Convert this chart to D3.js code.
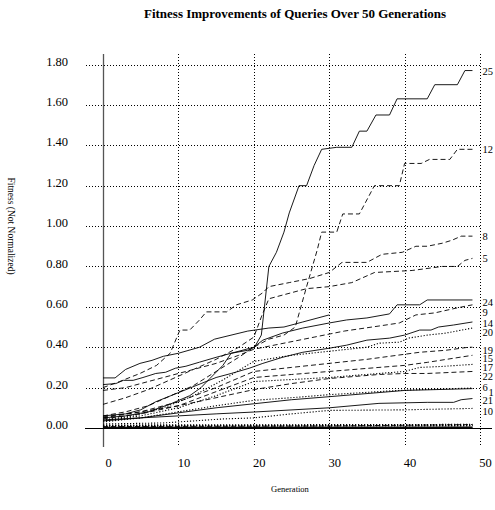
<!DOCTYPE html>
<html><head><meta charset="utf-8">
<script src="https://cdn.jsdelivr.net/npm/d3@7"></script>
<style>
body{margin:0;background:#fff}
svg{display:block;background:#fff}
text{font-family:"Liberation Serif","Times New Roman",serif;fill:#000}
</style>
</head><body>
<svg id="chart" width="495" height="510"></svg>
<script>
// ---------- data (generation, fitness) ----------
const title = "Fitness Improvements of Queries Over 50 Generations";
const xTitle = "Generation";
const yTitle = "Fitness (Not Normalized)";
const xTicks = [0, 10, 20, 30, 40, 50];
const yTicks = [0, 0.2, 0.4, 0.6, 0.8, 1.0, 1.2, 1.4, 1.6, 1.8];

const q25 = [[0,0.05],[3,0.06],[6,0.08],[9,0.12],[11.5,0.16],[13,0.20],[14.2,0.246],[15.9,0.31],[17,0.37],[19.2,0.385],[20.1,0.40],[21,0.46],[22,0.80],[23,0.87],[24,0.97],[24.7,1.065],[26,1.20],[27,1.20],[28,1.30],[29,1.38],[31,1.39],[33,1.39],[34,1.47],[35,1.47],[36.2,1.55],[38,1.55],[39,1.63],[43,1.63],[44,1.70],[47,1.70],[48,1.77],[49,1.77]];
const q12 = [[0,0.06],[3,0.08],[6,0.11],[9,0.16],[12,0.21],[15,0.28],[18,0.35],[20,0.40],[22,0.44],[24,0.46],[25.5,0.50],[27,0.70],[28.4,0.88],[29,0.97],[31,0.97],[31.8,1.06],[34,1.06],[36,1.20],[39.3,1.20],[40,1.31],[42.2,1.31],[43.3,1.33],[46,1.33],[47,1.38],[49,1.38]];
const q8 = [[0,0.20],[2.2,0.23],[4.9,0.27],[7.1,0.31],[8.9,0.37],[10.2,0.485],[11.5,0.485],[12.8,0.535],[13.7,0.575],[16.4,0.575],[17.7,0.61],[19.8,0.634],[21.2,0.67],[22,0.70],[24.7,0.72],[27.4,0.74],[30,0.77],[31.7,0.82],[35,0.82],[37,0.86],[39.7,0.87],[41.5,0.90],[43,0.90],[45,0.915],[46.3,0.93],[47.5,0.95],[49,0.95]];
const q5 = [[0,0.117],[3,0.15],[6,0.19],[9,0.24],[12,0.29],[15,0.34],[18,0.40],[20,0.45],[21,0.55],[22,0.64],[25,0.67],[27,0.69],[30,0.70],[33,0.72],[36,0.77],[41,0.78],[45,0.80],[47,0.80],[48,0.83],[49,0.84]];
const q24 = [[0,0.215],[1.7,0.22],[2.7,0.236],[4,0.236],[5.3,0.25],[7,0.27],[8.3,0.276],[9.6,0.296],[11,0.306],[12.8,0.326],[15,0.35],[17,0.37],[20,0.40],[21.2,0.435],[23.8,0.47],[26.5,0.495],[30,0.52],[32.3,0.535],[35,0.545],[38,0.565],[39,0.61],[42,0.61],[43,0.634],[49,0.634]];
const q9 = [[0,0.186],[3,0.20],[6,0.23],[9,0.26],[12,0.29],[15,0.32],[18,0.36],[20,0.39],[24,0.42],[28,0.45],[32,0.48],[36.6,0.505],[39.3,0.52],[41.5,0.56],[44,0.57],[47,0.595],[49,0.61]];
const q14 = [[0,0.06],[3,0.07],[5,0.09],[7,0.13],[9,0.16],[11,0.19],[13,0.22],[15,0.25],[17,0.27],[19.4,0.296],[21.2,0.32],[23.8,0.35],[26.5,0.375],[30,0.395],[32.3,0.41],[35,0.435],[38,0.445],[40,0.46],[42,0.485],[43.5,0.485],[44.5,0.50],[46.5,0.51],[49,0.525]];
const q20 = [[0,0.04],[4,0.06],[8,0.10],[12,0.16],[16,0.24],[20,0.33],[25,0.36],[30,0.38],[35,0.40],[36.6,0.42],[39.3,0.425],[40.5,0.445],[43,0.46],[45.5,0.47],[49,0.495]];
const q19 = [[0,0.05],[5,0.08],[10,0.13],[15,0.20],[20,0.28],[25,0.30],[30,0.32],[35,0.34],[38,0.355],[42,0.375],[45.5,0.385],[48.5,0.40],[49,0.40]];
const q15 = [[0,0.045],[5,0.07],[10,0.11],[15,0.18],[20,0.25],[25,0.265],[30,0.28],[36.6,0.30],[40,0.31],[43,0.325],[49,0.36]];
const q17 = [[0,0.035],[5,0.06],[10,0.10],[15,0.16],[20,0.23],[25,0.24],[30,0.25],[36.6,0.27],[40,0.28],[42,0.30],[45,0.305],[49,0.315]];
const q22 = [[0,0.055],[5,0.08],[10,0.11],[15,0.15],[20,0.19],[25,0.22],[30,0.245],[36.6,0.265],[40,0.27],[43,0.27],[49,0.28]];
const q6 = [[0,0.03],[5,0.05],[10,0.08],[15,0.11],[20,0.137],[25,0.15],[30,0.165],[40,0.188],[49,0.198]];
const q1 = [[0,0.035],[5,0.05],[10,0.075],[15,0.10],[20,0.12],[25,0.14],[30,0.155],[40,0.186],[49,0.195]];
const q21 = [[0,0.04],[5,0.05],[10,0.06],[15,0.07],[20,0.079],[30,0.10],[36.6,0.122],[43,0.127],[46.5,0.127],[47.5,0.14],[49,0.146]];
const q10 = [[0,0.02],[8,0.025],[12,0.035],[16,0.045],[20,0.05],[25,0.07],[30,0.087],[40,0.09],[49,0.097]];
const q3 = [[0,0.248],[1.6,0.248],[3,0.29],[4.9,0.32],[6.5,0.335],[8,0.355],[10,0.37],[12.8,0.40],[14.8,0.44],[19.2,0.48],[22,0.495],[24,0.50],[26.5,0.525],[30,0.56]];
const q2 = [[0,0.012],[49,0.014]];
const q4 = [[0,0.009],[49,0.012]];
const q7 = [[0,0.002],[49,0.003]];
const q11 = [[0,0.015],[20,0.016],[49,0.018]];
const q13 = [[0,0.0],[49,0.001]];
const q16 = [[0,0.011],[49,0.011]];
const q18 = [[0,0.007],[30,0.01],[49,0.017]];
const q23 = [[0,0.004],[49,0.005]];

const seriesNames = ["25","12","8","5","24","9","14","20","19","15","17","22","6","1","21","10","3","2","4","7","11","13","16","18","23"];
const seriesData  = [q25,q12,q8,q5,q24,q9,q14,q20,q19,q15,q17,q22,q6,q1,q21,q10,q3,q2,q4,q7,q11,q13,q16,q18,q23];
const labeledNames = ["25","12","8","5","24","9","14","20","19","15","17","22","6","1","21","10"];

// ---------- presentation ----------
const lineStyle = {
  "25":"solid","12":"dashed","8":"dashed","5":"dashed","24":"solid","9":"dashed","14":"solid",
  "20":"dotted","19":"dashed","15":"dashed","17":"dotted","22":"dashed","6":"dotted","1":"solid",
  "21":"solid","10":"dotted","3":"solid","2":"dotted","4":"dotted","7":"solid","11":"dotted",
  "13":"solid","16":"dotted","18":"dashed","23":"solid"
};
const dashFor = {solid:null, dashed:"5,3", dotted:"1.2,1.8"};
const labelNudge = {"24":[0,2],"9":[0,7],"14":[0,1],"20":[0,4],"19":[0,3],"15":[0,3],"17":[0,3],"22":[0,4.5],"6":[0,-1],"1":[6,3.5],"21":[0,1.5],"10":[0,2.6]};

const svg = d3.select("#chart");
const x = d3.scaleLinear().domain([0,50]).range([103,480]);
const y = d3.scaleLinear().domain([0,1.8]).range([428,64.5]);

// gridlines
svg.append("g").selectAll("line").data(yTicks.filter(d=>d>0)).join("line")
  .attr("x1",86).attr("x2",x(50)).attr("y1",d=>Math.round(y(d))+0.5).attr("y2",d=>Math.round(y(d))+0.5)
  .attr("stroke","#000").attr("stroke-width",1).attr("stroke-dasharray","1,2");
svg.append("g").selectAll("line").data(xTicks.filter(d=>d>0)).join("line")
  .attr("x1",d=>Math.round(x(d))+0.5).attr("x2",d=>Math.round(x(d))+0.5).attr("y1",54).attr("y2",447)
  .attr("stroke","#000").attr("stroke-width",1).attr("stroke-dasharray","1,2");

// y axis (labels only) and line
const yAxis = d3.axisLeft(y).tickValues(yTicks).tickFormat(d3.format(".2f")).tickSize(0).tickPadding(35);
const gy = svg.append("g").attr("transform","translate(103,0)").call(yAxis);
gy.select(".domain").remove();
gy.selectAll("text").attr("font-family","Liberation Serif").attr("font-size",12.5).attr("dy","0.05em");
svg.append("line").attr("x1",103.5).attr("x2",103.5).attr("y1",54).attr("y2",447)
  .attr("stroke","#555").attr("stroke-width",1.3);

// x axis (labels only)
const xAxis = d3.axisBottom(x).tickValues(xTicks).tickFormat(d3.format("d")).tickSize(0).tickPadding(30);
const gx = svg.append("g").attr("transform","translate(0,428)").call(xAxis);
gx.select(".domain").remove();
gx.selectAll("text").attr("font-family","Liberation Serif").attr("font-size",12.5).attr("dx",5);

// baseline
svg.append("line").attr("x1",85).attr("x2",492).attr("y1",428.5).attr("y2",428.5)
  .attr("stroke","#000").attr("stroke-width",1.2);

// series
const line = d3.line().x(d=>x(d[0])).y(d=>y(d[1]));
svg.append("g").selectAll("path").data(seriesNames.map((n,i)=>({name:n, values:seriesData[i]}))).join("path")
  .attr("d",d=>line(d.values)).attr("fill","none").attr("stroke","#000")
  .attr("stroke-width",d=>lineStyle[d.name]==="dotted"?1.1:0.9)
  .attr("stroke-dasharray",d=>dashFor[lineStyle[d.name]]);

// end labels
svg.append("g").selectAll("text").data(labeledNames).join("text")
  .attr("x",n=>{const v=seriesData[seriesNames.indexOf(n)]; return x(v[v.length-1][0])+10+((labelNudge[n]||[0,0])[0]);})
  .attr("y",n=>{const v=seriesData[seriesNames.indexOf(n)]; return y(v[v.length-1][1])+4+((labelNudge[n]||[0,0])[1]);})
  .attr("font-size",10.5).text(n=>n);

// titles
svg.append("text").attr("x",295).attr("y",18).attr("text-anchor","middle")
  .attr("font-size",13).attr("font-weight","bold").text(title);
svg.append("text").attr("x",290).attr("y",492).attr("text-anchor","middle")
  .attr("font-size",8.5).attr("fill","#000").text(xTitle);
svg.append("text").attr("transform","translate(8,226) rotate(90)").attr("text-anchor","middle")
  .attr("font-size",9.5).text(yTitle);
</script>
</body></html>
